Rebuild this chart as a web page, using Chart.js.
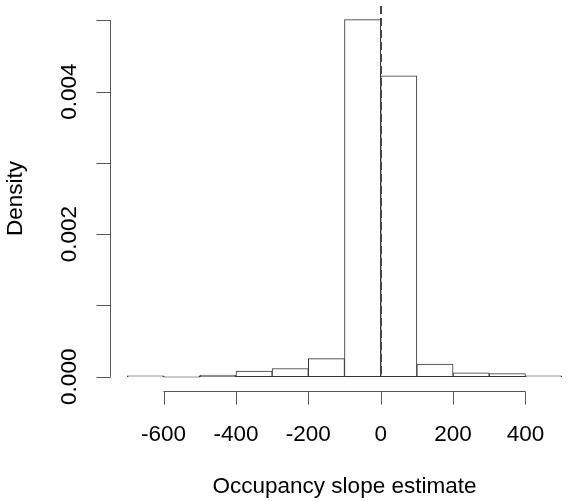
<!DOCTYPE html>
<html>
<head>
<meta charset="utf-8">
<script src="https://cdn.jsdelivr.net/npm/chart.js@4"></script>
<style>
  html, body { margin: 0; padding: 0; background: #fff; }
  #wrap { width: 581px; height: 501px; }
</style>
</head>
<body>
<div id="wrap"><canvas id="myChart" width="581" height="501"></canvas></div>
<script>
// histogram bins (width 100) and their densities
const binWidth = 100;
const binStarts = [-700, -600, -500, -400, -300, -200, -100, 0, 100, 200, 300, 400];
const density = [0.000004, 0, 0.000022, 0.00008, 0.000116, 0.000255, 0.00501, 0.00422, 0.000177, 0.000056, 0.000046, 0.000005];
const xTicks = [-600, -400, -200, 0, 200, 400];
const yTicks = [0, 0.001, 0.002, 0.003, 0.004, 0.005];
const yLabels = ["0.000", "", "0.002", "", "0.004", ""];
const refLine = 0;

const font = '22.5px "Liberation Sans", Arial, sans-serif';

const histData = binStarts.map((b, i) => ({ x: b + binWidth / 2, y: density[i] }));

// R-style axes drawn from the chart's scales
const rAxes = {
  id: "rAxes",
  afterDatasetsDraw(chart) {
    const { ctx, scales } = chart;
    const xs = scales.x, ys = scales.y;
    const area = chart.chartArea;
    ctx.save();

    // dashed reference line
    ctx.strokeStyle = "#444";
    ctx.lineWidth = 2;
    ctx.setLineDash([8, 4]);
    ctx.beginPath();
    const x0 = Math.round(xs.getPixelForValue(refLine));
    ctx.moveTo(x0, area.top);
    ctx.lineTo(x0, ys.getPixelForValue(0));
    ctx.stroke();
    ctx.setLineDash([]);

    ctx.strokeStyle = "#555";
    ctx.lineWidth = 1;
    ctx.fillStyle = "#000";
    ctx.font = font;

    // x axis
    const ax = Math.round(area.bottom) + 0.5;
    ctx.beginPath();
    ctx.moveTo(xs.getPixelForValue(xTicks[0]), ax);
    ctx.lineTo(xs.getPixelForValue(xTicks[xTicks.length - 1]), ax);
    xTicks.forEach(v => {
      const px = Math.round(xs.getPixelForValue(v)) + 0.5;
      ctx.moveTo(px, ax);
      ctx.lineTo(px, ax + 13);
    });
    ctx.stroke();
    ctx.textAlign = "center";
    ctx.textBaseline = "middle";
    xTicks.forEach(v => {
      ctx.fillText(String(v), xs.getPixelForValue(v), 435);
    });
    ctx.fillText("Occupancy slope estimate", (area.left + area.right) / 2, 487);

    // y axis
    const ay = Math.round(area.left) + 0.5;
    ctx.beginPath();
    ctx.moveTo(ay, ys.getPixelForValue(yTicks[0]));
    ctx.lineTo(ay, ys.getPixelForValue(yTicks[yTicks.length - 1]));
    yTicks.forEach(v => {
      const py = Math.round(ys.getPixelForValue(v)) + 0.5;
      ctx.moveTo(ay, py);
      ctx.lineTo(ay - 14, py);
    });
    ctx.stroke();
    yTicks.forEach((v, i) => {
      if (!yLabels[i]) return;
      ctx.save();
      ctx.translate(70, ys.getPixelForValue(v));
      ctx.rotate(-Math.PI / 2);
      ctx.fillText(yLabels[i], 0, 0);
      ctx.restore();
    });
    ctx.save();
    ctx.translate(16, (area.top + area.bottom) / 2);
    ctx.rotate(-Math.PI / 2);
    ctx.fillText("Density", 0, 0);
    ctx.restore();

    ctx.restore();
  }
};

const ctx = document.getElementById("myChart").getContext("2d");
const myChart = new Chart(ctx, {
  type: "bar",
  data: {
    datasets: [
      {
        label: "Density",
        data: histData,
        backgroundColor: "#ffffff",
        borderColor: "#333333",
        borderWidth: 1,
        borderSkipped: false,
        barPercentage: 1,
        categoryPercentage: 1,
        minBarLength: 1,
      },
    ],
  },
  options: {
    responsive: false,
    animation: false,
    layout: { padding: { left: 110, right: 2, top: 6, bottom: 110 } },
    plugins: { legend: { display: false }, tooltip: { enabled: false } },
    scales: {
      x: { type: "linear", min: -748, max: 548, offset: false, display: false },
      y: { min: -0.0002, max: 0.0052, display: false },
    },
  },
  plugins: [rAxes],
});
</script>
</body>
</html>
